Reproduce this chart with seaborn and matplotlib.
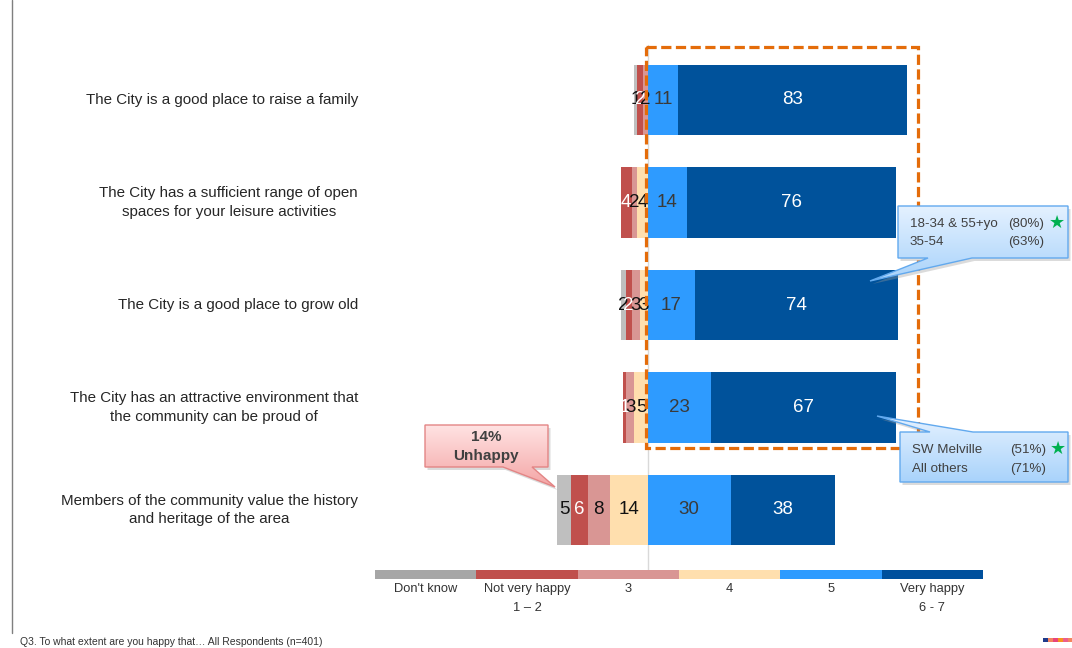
import numpy as np
import pandas as pd
import matplotlib
matplotlib.use("Agg")
import matplotlib.pyplot as plt
from matplotlib.patches import Polygon, Rectangle
import seaborn as sns

# ---- survey results (% of respondents) ----
statements = [
    "The City is a good place to raise a family",
    "The City has a sufficient range of open\nspaces for your leisure activities",
    "The City is a good place to grow old",
    "The City has an attractive environment that\nthe community can be proud of",
    "Members of the community value the history\nand heritage of the area",
]
dont_know = [1, 0, 2, 0, 5]
not_very_happy = [2, 4, 2, 1, 6]
score_3 = [2, 2, 3, 3, 8]
score_4 = [0, 4, 3, 5, 14]
score_5 = [11, 14, 17, 23, 30]
very_happy = [83, 76, 74, 67, 38]

legend_labels = ["Don't know", "Not very happy\n1 – 2", "3", "4", "5", "Very happy\n6 - 7"]

callout_age = [("18-34 & 55+yo", "(80%)", True), ("35-54", "(63%)", False)]
callout_area = [("SW Melville", "(51%)", True), ("All others", "(71%)", False)]
unhappy_text = "14%\nUnhappy"
footnote = "Q3. To what extent are you happy that… All Respondents (n=401)"

# ---- styling ----
bar_colors = ["#BFBFBF", "#C0504D", "#D99694", "#FFDFAE", "#2E9BFF", "#00529B"]
key_colors = ["#A6A6A6", "#C0504D", "#D99694", "#FFDFAE", "#2E9BFF", "#00509D"]
label_colors = ["#111111", "white", "#111111", "#111111", "#3A3A3A", "white"]

sns.set_theme(style="white")
plt.rcParams["font.family"] = ["Liberation Sans", "DejaVu Sans"]

W, H = 1072, 648
fig = plt.figure(figsize=(W / 100, H / 100), dpi=100)
fig.patch.set_facecolor("white")

# main axes spans the figure; zero of the scale sits at x=648px
ZERO_PX, PX_PER_PCT = 648.0, 2.75
ROW0_PX, ROW_STEP_PX = 100.0, 102.5
ax = fig.add_axes([0, 0, 1, 1])

# segment extents: negative side grows leftwards from zero
s4 = np.array(score_4, float)
s3 = np.array(score_3, float)
nvh = np.array(not_very_happy, float)
dk = np.array(dont_know, float)
s5 = np.array(score_5, float)
vh = np.array(very_happy, float)

segments = [
    (dk, -(s4 + s3 + nvh + dk)),
    (nvh, -(s4 + s3 + nvh)),
    (s3, -(s4 + s3)),
    (s4, -s4),
    (s5, np.zeros_like(s5)),
    (vh, s5),
]

ax.axvline(0.0, ymin=0.12, ymax=0.93, color="#D9D9D9", lw=1, zorder=0)

for (vals, lefts), col in zip(segments, bar_colors):
    sns.barplot(x=vals, y=statements, order=statements, orient="h",
                color=col, width=0.685, left=lefts, ax=ax,
                saturation=1, linewidth=0, zorder=2)

# value labels at segment centres
for (vals, lefts), tcol in zip(segments, label_colors):
    for i, (v, l) in enumerate(zip(vals, lefts)):
        if v <= 0:
            continue
        ax.text(l + v / 2, i, f"{int(v)}", ha="center", va="center",
                fontsize=13.5, color=tcol, zorder=4)

# statement labels, right aligned left of the bars
label_x = (358 - ZERO_PX) / PX_PER_PCT
for i, s in enumerate(statements):
    ax.text(label_x, i, s, ha="right", va="center", multialignment="center",
            fontsize=10.9, color="#262626", linespacing=1.45)

ax.set_xlim(-ZERO_PX / PX_PER_PCT, (W - ZERO_PX) / PX_PER_PCT)
ax.set_ylim((H - ROW0_PX) / ROW_STEP_PX, -ROW0_PX / ROW_STEP_PX)
ax.set_axis_off()

# ---- overlay in pixel units for frame, callouts and key ----
ov = fig.add_axes([0, 0, 1, 1], zorder=3)
ov.set_xlim(0, W)
ov.set_ylim(H, 0)
ov.set_axis_off()
ov.patch.set_alpha(0)

# slide rule on the left
ov.plot([12, 12], [0, 633], color="#7F7F7F", lw=1)

# highlight frame around the happy share
ov.add_patch(Rectangle((646, 47), 272, 401, fill=False, ec="#E46C0A", lw=2.3,
                       linestyle=(0, (3.2, 1.4))))


def callout(verts, top_col, bot_col, edge_col):
    verts = np.array(verts, float)
    shadow = Polygon(verts + [2.5, 3], closed=True, fc="#9A9A9A", ec="none",
                     alpha=0.35, zorder=4)
    ov.add_patch(shadow)
    poly = Polygon(verts, closed=True, fc="none", ec=edge_col, lw=1.0, zorder=6)
    ov.add_patch(poly)
    x0, y0 = verts.min(axis=0)
    x1, y1 = verts.max(axis=0)
    t = np.linspace(0, 1, 64)[:, None, None]
    c0 = np.array(matplotlib.colors.to_rgb(top_col))
    c1 = np.array(matplotlib.colors.to_rgb(bot_col))
    grad = c0 * (1 - t) + c1 * t
    im = ov.imshow(grad, extent=(x0, x1, y1, y0), origin="upper",
                   aspect="auto", zorder=5, interpolation="bilinear")
    clip = Polygon(verts, closed=True, transform=ov.transData)
    im.set_clip_path(clip)


# age callout
callout([(898, 206), (1068, 206), (1068, 258), (972, 258), (870, 281),
         (928, 258), (898, 258)], "#E4F1FF", "#A9D3FB", "#62A9EE")
for k, (grp, pct, star) in enumerate(callout_age):
    y = 224 + 18 * k
    ov.text(910, y, grp, ha="left", va="center", fontsize=9.6, color="#404040", zorder=7)
    ov.text(1008, y, pct, ha="left", va="center", fontsize=9.6, color="#404040", zorder=7)
    if star:
        ov.text(1057, y - 1, "★", ha="center", va="center", fontsize=13,
                color="#00B050", family=["DejaVu Sans"], zorder=7)

# area callout
callout([(900, 432), (930, 432), (877, 416), (973, 432), (1068, 432),
         (1068, 482), (900, 482)], "#E4F1FF", "#A9D3FB", "#62A9EE")
for k, (grp, pct, star) in enumerate(callout_area):
    y = 450 + 19 * k
    ov.text(912, y, grp, ha="left", va="center", fontsize=9.6, color="#404040", zorder=7)
    ov.text(1010, y, pct, ha="left", va="center", fontsize=9.6, color="#404040", zorder=7)
    if star:
        ov.text(1058, y - 1, "★", ha="center", va="center", fontsize=13,
                color="#00B050", family=["DejaVu Sans"], zorder=7)

# unhappy callout
callout([(425, 425), (548, 425), (548, 467), (532, 467), (555, 487),
         (503, 467), (425, 467)], "#FFE3E3", "#F4A5A5", "#E38585")
ov.text(486, 446.5, unhappy_text, ha="center", va="center", fontsize=11,
        fontweight="bold", color="#404040", linespacing=1.45, zorder=7)

# colour key
key_x0, key_x1 = 375, 983
seg_w = (key_x1 - key_x0) / len(legend_labels)
for j, (lab, col) in enumerate(zip(legend_labels, key_colors)):
    x = key_x0 + j * seg_w
    ov.add_patch(Rectangle((x, 570), seg_w, 9, fc=col, ec="none"))
    ov.text(x + seg_w / 2, 583, lab, ha="center", va="top", fontsize=9.3,
            color="#333333", linespacing=1.75)

# footnote
ov.text(20, 642, footnote, ha="left", va="center", fontsize=7.5, color="#333333")

# brand stripe
for j, col in enumerate(["#1F3A8A", "#F4845F", "#E8457A", "#F7941D", "#EC5F8C", "#F4845F"]):
    ov.add_patch(Rectangle((1043 + j * 5, 638), 5, 4, fc=col, ec="none"))

fig.savefig("out.png", dpi=100, facecolor="white")
